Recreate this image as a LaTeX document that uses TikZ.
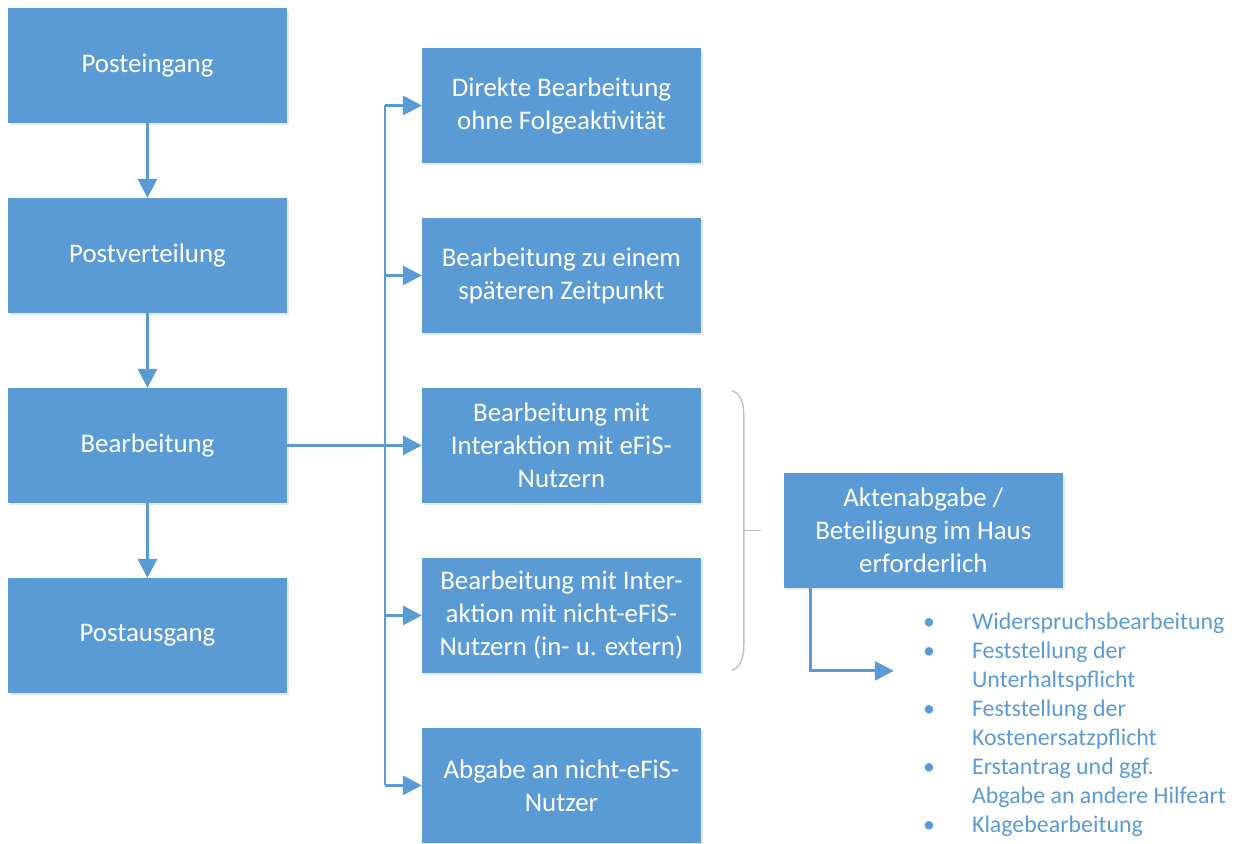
\documentclass[tikz,border=0pt]{standalone}
\usepackage{fontspec}
\setmainfont{Carlito}
\usetikzlibrary{arrows.meta,positioning,shadows,calc}
\definecolor{postblue}{RGB}{91,155,213}
\definecolor{bracegray}{RGB}{191,191,191}

\begin{document}
\begin{tikzpicture}[
  x=0.02cm,y=-0.02cm,
  node distance=1.5cm and 2.7cm,
  box/.style={rectangle,fill=postblue,text=white,minimum width=5.58cm,minimum height=2.3cm,align=center,outer sep=0pt,
    font=\fontsize{15.3}{18.8}\selectfont,drop shadow={opacity=0.18,shadow xshift=0.04cm,shadow yshift=-0.05cm}},
  line/.style={draw=postblue,line width=1.6pt},
  arrow/.style={line,-{Triangle[length=0.38cm,width=0.38cm]}}]
  \useasboundingbox (0,0) rectangle (1242,843);
  \node[box] (eingang) at (147.5,65.5) {Posteingang};
  \node[box,below=of eingang] (verteilung) {Postverteilung};
  \node[box,below=of verteilung] (bearb) {Bearbeitung};
  \node[box,below=of bearb] (ausgang) {Postausgang};
  \node[box,right=of bearb] (efis) {Bearbeitung mit\\Interaktion mit eFiS-\\Nutzern};
  \node[box,above=1.1cm of efis] (spaeter) {Bearbeitung zu einem\\späteren Zeitpunkt};
  \node[box,above=1.1cm of spaeter] (direkt) {Direkte Bearbeitung\\ohne Folgeaktivität};
  \node[box,below=1.1cm of efis] (nichtefis) {Bearbeitung mit Inter-\\aktion mit nicht-eFiS-\\Nutzern (in- u. extern)};
  \node[box,below=1.1cm of nichtefis] (abgabe) {Abgabe an nicht-eFiS-\\Nutzer};
  \coordinate (mitte) at ($(efis.east)!0.5!(nichtefis.east)$);
  \node[box,right=1.66cm of mitte] (akten) {Aktenabgabe /\\Beteiligung im Haus\\erforderlich};
  \node[anchor=north west,inner sep=0pt,text=postblue,font=\fontsize{13.6}{16.5}\selectfont]
    (liste) at ([xshift=2.78cm,yshift=-0.42cm]akten.south west) {%
    \begin{tabular}{@{}l@{\hspace{0.74cm}}l@{}}
      \textbullet & Widerspruchsbearbeitung\\
      \textbullet & Feststellung der\\
                  & Unterhaltspflicht\\
      \textbullet & Feststellung der\\
                  & Kostenersatzpflicht\\
      \textbullet & Erstantrag und ggf.\\
                  & Abgabe an andere Hilfeart\\
      \textbullet & Klagebearbeitung
    \end{tabular}};
  \draw[arrow] (eingang) -- (verteilung);
  \draw[arrow] (verteilung) -- (bearb);
  \draw[arrow] (bearb) -- (ausgang);
  \coordinate (oben) at ([xshift=-0.74cm]direkt.west);
  \coordinate (unten) at ([xshift=-0.74cm]abgabe.west);
  \draw[line] (oben) -- (unten);
  \draw[arrow] (bearb) -- (efis);
  \foreach \ziel in {direkt,spaeter,nichtefis,abgabe}
    \draw[arrow] (oben |- \ziel.west) -- (\ziel.west);
  \draw[bracegray,line width=0.8pt] ([xshift=0.62cm,yshift=-0.05cm]efis.north east)
    .. controls ([xshift=0.86cm,yshift=-0.15cm]efis.north east) and ([xshift=0.86cm,yshift=-0.4cm]efis.north east)
    .. ([xshift=0.86cm,yshift=-0.7cm]efis.north east)
    -- ([xshift=0.86cm,yshift=0.7cm]nichtefis.south east)
    .. controls ([xshift=0.86cm,yshift=0.4cm]nichtefis.south east) and ([xshift=0.86cm,yshift=0.15cm]nichtefis.south east)
    .. ([xshift=0.62cm,yshift=0.05cm]nichtefis.south east);
  \draw[bracegray,line width=0.8pt] ([xshift=0.86cm]mitte) -- ([xshift=1.2cm]mitte);
  \coordinate (aktenab) at ([xshift=0.54cm]akten.south west);
  \coordinate (listein) at ([xshift=2.2cm,yshift=-1.66cm]akten.south west);
  \draw[arrow] (aktenab) |- (listein);
\end{tikzpicture}
\end{document}
